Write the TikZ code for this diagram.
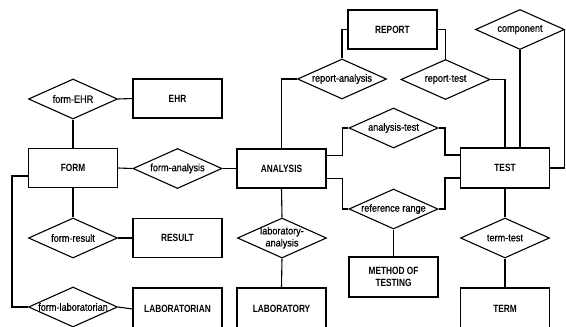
\documentclass[tikz,border=0pt]{standalone}
\usepackage{fontspec}
\setmainfont{Liberation Sans}
\newfontfamily\relfont[FakeStretch=0.87,FakeBold=0.6]{Liberation Sans}
\newfontfamily\entfont[FakeStretch=0.79]{Liberation Sans}
\usetikzlibrary{shapes.geometric}
\begin{document}
\begin{tikzpicture}[x=1pt,y=-1pt,line width=1.1pt,
  entity/.style={draw,rectangle,minimum width=89pt,minimum height=39pt,inner sep=0pt,
    align=center,font=\entfont\bfseries\fontsize{10.5}{12}\selectfont},
  relation/.style={draw,diamond,aspect=1,minimum width=89pt,minimum height=40pt,inner sep=0pt,
    font=\relfont\fontsize{10.5}{12}\selectfont},
  link/.style={line width=1.1pt}]
\useasboundingbox (0,0) rectangle (566,327);

% relationship diamonds (labels may overhang the outline)
\newcommand{\rtext}[1]{\makebox[0pt][c]{#1}}
\node[relation] (formehr)  at (73,99)      {\rtext{form-EHR}};
\node[relation] (formana)  at (177.5,168.5){\rtext{form-analysis}};
\node[relation] (formres)  at (73,238)     {\rtext{form-result}};
\node[relation] (formlab)  at (73,307)     {\rtext{form-laboratorian}};
\node[relation] (labana)   at (282,238)    {\rtext{\begin{tabular}{@{}c@{}}laboratory-\\analysis\end{tabular}}};
\node[relation] (repana)   at (342,79)     {\rtext{report-analysis}};
\node[relation] (reptest)  at (445.5,79.5) {\rtext{report-test}};
\node[relation] (comp)     at (520,29.5)   {\rtext{component}};
\node[relation] (anatest)  at (393.5,128)  {\rtext{analysis-test}};
\node[relation] (refrange) at (393.5,209)  {\rtext{reference range}};
\node[relation] (termtest) at (505,238)    {\rtext{term-test}};

% entity boxes
\node[entity] (ehr)      at (177.5,98.5) {EHR};
\node[entity] (form)     at (73,168)     {FORM};
\node[entity] (analysis) at (281.5,168.5){ANALYSIS};
\node[entity] (result)   at (177.5,238)  {RESULT};
\node[entity,minimum height=42pt] (labtn) at (177.5,309) {LABORATORIAN};
\node[entity,minimum height=42pt] (lab)   at (281.5,309) {LABORATORY};
\node[entity] (report)   at (392.5,29.5) {REPORT};
\node[entity,minimum height=40pt] (test) at (505,168) {TEST};
\node[entity,minimum height=40pt] (method) at (393.5,277) {METHOD OF\\TESTING};
\node[entity,minimum height=42pt] (term) at (505,309) {TERM};

% connectors
\draw[link] (formehr.east) -- (ehr.west);
\draw[link] (formehr.south) -- (form.north);
\draw[link] (form.east) -- (formana.west);
\draw[link] (formana.east) -- (analysis.west);
\draw[link] (form.south) -- (formres.north);
\draw[link] (formres.east) -- (result.west);
\draw[link] ([yshift=-8pt]form.west) -- ++(-16,0) |- (formlab.west);
\draw[link] (formlab.east) -- (labtn.west);
\draw[link] (analysis.south) -- (labana.north);
\draw[link] (labana.south) -- (lab.north);
\draw[link] (analysis.north) |- (repana.west);
\draw[link] (repana.north) |- (report.west);
\draw[link] (report.east) -| (reptest.north);
\draw[link] (reptest.east) -| (test.north);
\draw[link] (comp.south) -- (comp.south |- test.north);
\draw[link] (comp.east) -| ([xshift=14pt]test.east) -- (test.east);
\draw[link] ([yshift=13pt]analysis.east) -- ++(16,0) |- (anatest.west);
\draw[link] (anatest.east) -| ([xshift=-15pt,yshift=13pt]test.west) -- ([yshift=13pt]test.west);
\draw[link] ([yshift=-10pt]analysis.east) -- ++(16,0) |- (refrange.west);
\draw[link] (refrange.east) -| ([xshift=-15pt,yshift=-10pt]test.west) -- ([yshift=-10pt]test.west);
\draw[link] (refrange.south) -- (method.north);
\draw[link] (test.south) -- (termtest.north);
\draw[link] (termtest.south) -- (term.north);
\end{tikzpicture}
\end{document}
